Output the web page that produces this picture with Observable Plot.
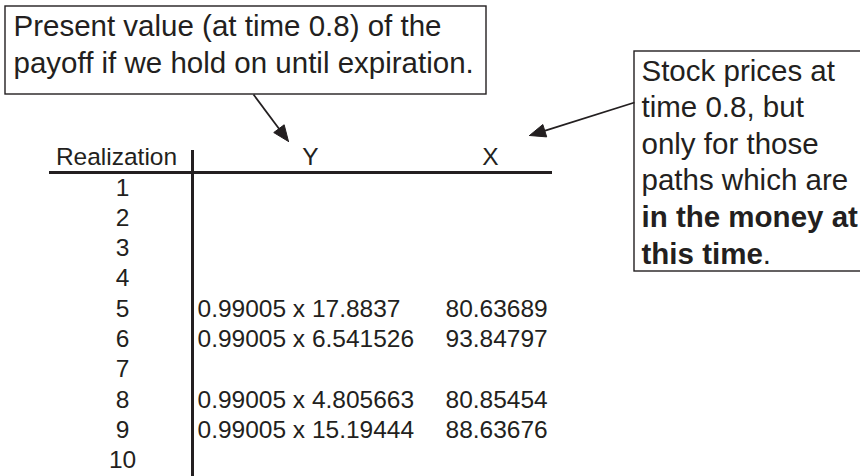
<!DOCTYPE html>
<html>
<head>
<meta charset="utf-8">
<script src="https://cdn.jsdelivr.net/npm/d3@7"></script>
<script src="https://cdn.jsdelivr.net/npm/@observablehq/plot@0.6"></script>
<style>
  html, body { margin: 0; padding: 0; background: #fff; overflow: hidden; }
</style>
</head>
<body>
<div id="chart"></div>
<script>
// ---------- data ----------
const realizations = [1, 2, 3, 4, 5, 6, 7, 8, 9, 10];
const discountFactor = 0.99005;
const payoffs = [null, null, null, null, 17.8837, 6.541526, null, 4.805663, 15.19444, null];
const stockPrices = [null, null, null, null, 80.63689, 93.84797, null, 80.85454, 88.63676, null];
const headers = ["Realization", "Y", "X"];
const noteLeftLines = ["Present value (at time 0.8) of the", "payoff if we hold on until expiration."];
const noteRightLines = ["Stock prices at", "time 0.8, but", "only for those", "paths which are"];
const noteRightBold = ["in the money at", "this time"];
const noteRightTail = ".";

// ---------- layout ----------
const W = 860, H = 476;
const FONT = "'Liberation Sans', Arial, Helvetica, sans-serif";
const INK = "#231f20";
const ROW1 = 195, STEP = 30.3;            // baseline of row 1, row spacing (px)
const R = px => (px - ROW1) / STEP + 1;    // pixel layout -> row units
const TABLE_FS = 24.5, NOTE_FS = 29.5;
const HEADER_X = [116, 310, 490];
const HEADER_BASE = 164;

const rows = realizations.map((r, i) => ({r, payoff: payoffs[i], price: stockPrices[i]}));
const filled = rows.filter(d => d.payoff != null);

// arrows (pixel layout)
const arrows = [
  {x1: 253, y1: 94, x2: 288, y2: 141},
  {x1: 634, y1: 102, x2: 529, y2: 135}
];
const HEAD_L = 16, HEAD_H = 6.5;
const shafts = [], heads = [];
arrows.forEach((a, k) => {
  const dx = a.x2 - a.x1, dy = a.y2 - a.y1, len = Math.hypot(dx, dy);
  const ux = dx / len, uy = dy / len;
  const bx = a.x2 - HEAD_L * ux, by = a.y2 - HEAD_L * uy;
  shafts.push({x1: a.x1, y1: R(a.y1), x2: bx + 2 * ux, y2: R(by + 2 * uy)});
  heads.push({k, x: a.x2, y: R(a.y2)});
  heads.push({k, x: bx - HEAD_H * uy, y: R(by + HEAD_H * ux)});
  heads.push({k, x: bx + HEAD_H * uy, y: R(by - HEAD_H * ux)});
  heads.push({k, x: a.x2, y: R(a.y2)});
});

// width of bold "this time" to place the trailing period
const ctx = document.createElement("canvas").getContext("2d");
ctx.font = `bold ${NOTE_FS}px ${FONT}`;
const boldW = ctx.measureText(noteRightBold[1]).width;

const RB_X = 641, RB_BASE = 80, RB_STEP = 36.6;

const chart = Plot.plot({
  width: W,
  height: H,
  marginTop: 0, marginRight: 0, marginBottom: 0, marginLeft: 0,
  x: {type: "linear", domain: [0, W], range: [0, W], axis: null},
  y: {type: "linear", domain: [R(0), R(H)], range: [0, H], axis: null},
  style: {fontFamily: FONT, background: "#fff", color: INK},
  marks: [
    // table rules
    Plot.ruleY([R(172)], {x1: 49, x2: 552, stroke: INK, strokeWidth: 3}),
    Plot.ruleX([192], {y1: R(150), y2: R(H + 5), stroke: INK, strokeWidth: 3}),
    // headers
    Plot.text(headers, {
      x: (d, i) => HEADER_X[i], y: () => R(HEADER_BASE), text: d => d,
      textAnchor: "middle", lineAnchor: "bottom", fontSize: TABLE_FS, fill: INK
    }),
    // realization numbers
    Plot.text(rows, {
      x: 122, y: "r", text: d => String(d.r),
      textAnchor: "middle", lineAnchor: "bottom", fontSize: TABLE_FS, fill: INK
    }),
    // Y column
    Plot.text(filled, {
      x: 197, y: "r", text: d => `${discountFactor} x ${d.payoff}`,
      textAnchor: "start", lineAnchor: "bottom", fontSize: TABLE_FS, fill: INK
    }),
    // X column
    Plot.text(filled, {
      x: 445, y: "r", text: d => String(d.price),
      textAnchor: "start", lineAnchor: "bottom", fontSize: TABLE_FS, fill: INK
    }),
    // left note box
    Plot.rect([0], {x1: 5, x2: 486, y1: R(6), y2: R(94), fill: "#fff", stroke: INK, strokeWidth: 1.4}),
    Plot.text(noteLeftLines, {
      x: 13, y: (d, i) => R(35 + 37 * i), text: d => d,
      textAnchor: "start", lineAnchor: "bottom", fontSize: NOTE_FS, fill: INK
    }),
    // right note box
    Plot.rect([0], {x1: 634, x2: 900, y1: R(51), y2: R(271), fill: "#fff", stroke: INK, strokeWidth: 1.4}),
    Plot.text(noteRightLines, {
      x: RB_X, y: (d, i) => R(RB_BASE + RB_STEP * i), text: d => d,
      textAnchor: "start", lineAnchor: "bottom", fontSize: NOTE_FS, fill: INK
    }),
    Plot.text(noteRightBold, {
      x: RB_X, y: (d, i) => R(RB_BASE + RB_STEP * (noteRightLines.length + i)), text: d => d,
      textAnchor: "start", lineAnchor: "bottom", fontSize: NOTE_FS, fontWeight: "bold", fill: INK
    }),
    Plot.text([noteRightTail], {
      x: RB_X + boldW, y: () => R(RB_BASE + RB_STEP * (noteRightLines.length + 1)), text: d => d,
      textAnchor: "start", lineAnchor: "bottom", fontSize: NOTE_FS, fill: INK
    }),
    // arrows
    Plot.link(shafts, {x1: "x1", y1: "y1", x2: "x2", y2: "y2", stroke: INK, strokeWidth: 1.8}),
    Plot.line(heads, {x: "x", y: "y", z: "k", fill: INK, stroke: INK, strokeWidth: 1, curve: "linear"})
  ]
});

document.getElementById("chart").appendChild(chart);
</script>
</body>
</html>
